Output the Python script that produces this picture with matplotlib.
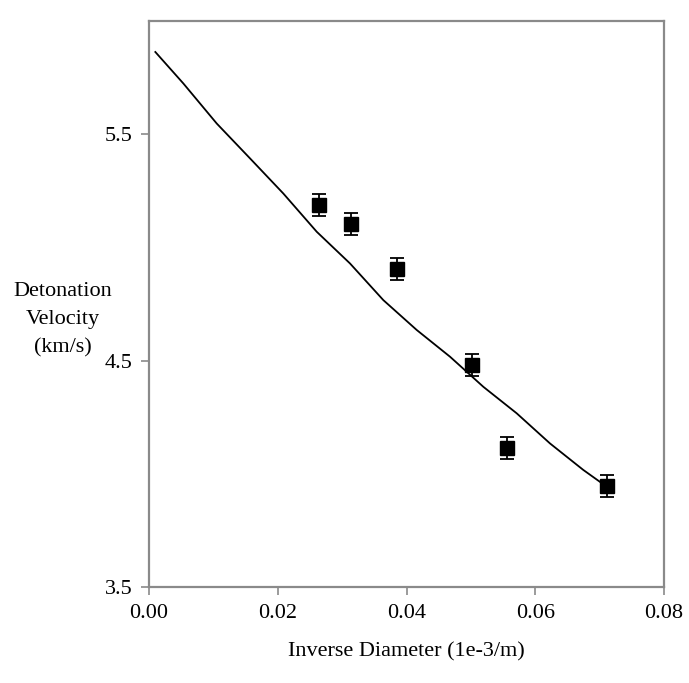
import matplotlib.pyplot as plt

plt.rcParams['font.family'] = ['Liberation Serif', 'DejaVu Serif']

# measured detonation velocities vs inverse charge diameter
inv_diameter = [0.02646, 0.03143, 0.03853, 0.05023, 0.05566, 0.07120]
velocity = [5.187, 5.103, 4.904, 4.480, 4.115, 3.945]
velocity_err = [0.048, 0.048, 0.048, 0.048, 0.048, 0.048]

# model curve
model_x = [0.00098, 0.00533, 0.01052, 0.01569, 0.02086, 0.02605, 0.03122, 0.03640,
           0.04159, 0.04676, 0.05194, 0.05712, 0.06229, 0.06746, 0.07110]
model_y = [5.863, 5.724, 5.547, 5.393, 5.238, 5.069, 4.929, 4.767,
           4.635, 4.517, 4.384, 4.267, 4.134, 4.017, 3.943]

x_ticks = [0.00, 0.02, 0.04, 0.06, 0.08]
y_ticks = [3.5, 4.5, 5.5]

fig = plt.figure(figsize=(6.89, 6.83), dpi=100)
ax = fig.add_axes([0.2163, 0.1406, 0.7474, 0.8287])

ax.plot(model_x, model_y, color='black', lw=1.3, zorder=2)
ax.errorbar(inv_diameter, velocity, yerr=velocity_err, fmt='s', color='black',
            ms=10, capsize=4.8, elinewidth=1.3, capthick=1.3, zorder=3)

ax.set_xlim(0, 0.08)
ax.set_ylim(3.5, 6.0)
ax.set_xticks(x_ticks)
ax.set_xticklabels([f'{v:.2f}' for v in x_ticks])
ax.set_yticks(y_ticks)
ax.set_yticklabels([f'{v:.1f}' for v in y_ticks])

for s in ax.spines.values():
    s.set_color('#8a8a8a')
    s.set_linewidth(1.6)
ax.tick_params(direction='out', length=6, width=1.2, color='#8a8a8a',
               labelsize=16, pad=6)

ax.set_xlabel('Inverse Diameter (1e-3/m)', fontsize=16, labelpad=14)
ax.set_ylabel('Detonation\nVelocity\n(km/s)', fontsize=16, rotation=0,
              ha='center', va='center', linespacing=1.65)
ax.yaxis.set_label_coords(-0.167, 0.472)

fig.savefig('out.png', dpi=100)
